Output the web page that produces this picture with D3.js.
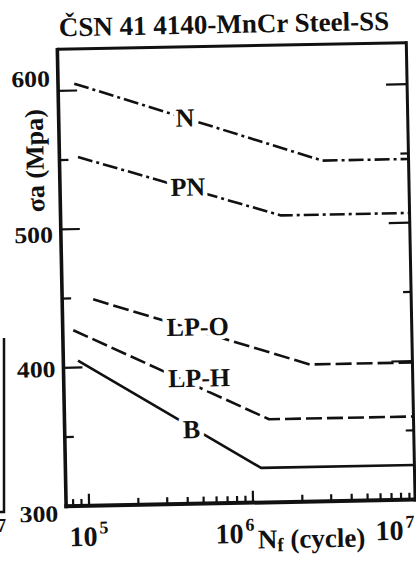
<!DOCTYPE html>
<html><head><meta charset="utf-8">
<script src="https://cdn.jsdelivr.net/npm/d3@7"></script>
<style>
html,body{margin:0;padding:0;background:#fff;} svg{display:block}
svg text{font-family:"Liberation Serif","DejaVu Serif","Times New Roman",serif;}
</style>
</head><body>
<script>
// ---- data ----
const seriesNames = ["N", "PN", "LP-O", "LP-H", "B"];
const nfStart = [9.1e4, 9.4e4, 1.12e5, 8.4e4, 8.9e4];
const sigmaStart = [605, 552, 449, 427, 405];
const nfKnee = [2.9e6, 1.6e6, 2.3e6, 1.28e6, 1.13e6];
const sigmaEndurance = [546, 507, 399, 360, 325];
const nfRunout = [9.7e6, 9.7e6, 9.7e6, 9.7e6, 9.7e6];
const labelNf = [4.27e5, 4.36e5, 4.82e5, 4.85e5, 4.3e5];
const labelSigma = [579, 529, 428, 391, 354];
const yMajorTicks = [300, 400, 500, 600];
const yMinorTicks = [350, 450, 550];
const xMajorTicks = [1e5, 1e6, 1e7];
const xTickExponents = ["5", "6", "7"];
const xMinorTicks = [8e4, 9e4, 2e5, 3e5, 4e5, 5e5, 6e5, 7e5, 8e5, 9e5, 2e6, 3e6, 4e6, 5e6, 6e6, 7e6, 8e6, 9e6];
const titleText = "ČSN 41 4140-MnCr Steel-SS";
const yTitleText = "σa (Mpa)";

// ---- styles ----
const dashes = {"N": "15,4,3,4", "PN": "15,4,3,4", "LP-O": "16,5", "LP-H": "16,5", "B": null};
const yLabelDy = {600: -4.5, 500: 13, 400: 9, 300: 15};
const xLabelDx = {"5": -20, "6": -38, "7": -42};

const W = 416, H = 563;
const L = 62, R = 411, T = 46, B = 503;

const svg = d3.select("body").append("svg").attr("width", W).attr("height", H);
svg.append("rect").attr("width", W).attr("height", H).attr("fill", "#fff");

// partial neighbouring frame at the left edge (scan artifact)
svg.append("path").attr("d", "M4,338 L4,512 L0,512").attr("fill", "none")
  .attr("stroke", "#111").attr("stroke-width", 2.5);
svg.append("text").attr("x", -3).attr("y", 532).attr("font-size", 18)
  .attr("font-weight", "bold").attr("fill", "#111").text("7");

const g = svg.append("g").attr("transform", "rotate(-1.1,234,290)");

const x = d3.scaleLog().domain([Math.pow(10, 4.86), Math.pow(10, 6.988)]).range([L, R]);
const y = d3.scaleLinear().domain([300, 630]).range([B, T]);

// title
g.append("text").attr("x", 229).attr("y", 33).attr("text-anchor", "middle")
  .attr("font-size", 27).attr("font-weight", "bold").attr("fill", "#111").text(titleText);

// series lines
const line = d3.line().x(d => x(d[0])).y(d => y(d[1]));
seriesNames.forEach((name, i) => {
  const pts = [[nfStart[i], sigmaStart[i]], [nfKnee[i], sigmaEndurance[i]], [nfRunout[i], sigmaEndurance[i]]];
  g.append("path").attr("d", line(pts)).attr("fill", "none")
    .attr("stroke", "#111").attr("stroke-width", 2.6)
    .attr("stroke-dasharray", dashes[name])
    .attr("stroke-linejoin", "round");
});

// series labels
seriesNames.forEach((name, i) => {
  g.append("text").attr("x", x(labelNf[i])).attr("y", y(labelSigma[i]) + 9)
    .attr("text-anchor", "middle").attr("font-size", 26).attr("font-weight", "bold")
    .attr("fill", "#111").attr("stroke", "#fff").attr("stroke-width", 9)
    .attr("paint-order", "stroke").attr("stroke-linejoin", "round").text(name);
});

// frame
const frame = g.append("g").attr("stroke", "#111").attr("fill", "none");
frame.append("line").attr("x1", L).attr("x2", R).attr("y1", T).attr("y2", T).attr("stroke-width", 3);
frame.append("line").attr("x1", R).attr("x2", R).attr("y1", T - 1.5).attr("y2", B + 2).attr("stroke-width", 3);
frame.append("line").attr("x1", L).attr("x2", L).attr("y1", T - 1.5).attr("y2", B + 2).attr("stroke-width", 3.6);
frame.append("line").attr("x1", L - 1.8).attr("x2", R + 1.5).attr("y1", B).attr("y2", B).attr("stroke-width", 4);

// y ticks (inside, left & right)
const tk = g.append("g").attr("stroke", "#111").attr("stroke-width", 2.2);
yMajorTicks.filter(v => v > 300).forEach(v => {
  tk.append("line").attr("x1", L).attr("x2", L + 19).attr("y1", y(v)).attr("y2", y(v));
  tk.append("line").attr("x1", R).attr("x2", R - 21).attr("y1", y(v)).attr("y2", y(v));
});
yMinorTicks.forEach(v => {
  tk.append("line").attr("x1", L).attr("x2", L + 9).attr("y1", y(v)).attr("y2", y(v));
  tk.append("line").attr("x1", R).attr("x2", R - 8).attr("y1", y(v)).attr("y2", y(v));
});
// x ticks (inside, bottom)
const [d0, d1] = x.domain();
xMajorTicks.filter(v => v >= d0 && v <= d1).forEach(v => {
  tk.append("line").attr("x1", x(v)).attr("x2", x(v)).attr("y1", B).attr("y2", B - 12);
});
xMinorTicks.filter(v => v >= d0 && v <= d1).forEach(v => {
  tk.append("line").attr("x1", x(v)).attr("x2", x(v)).attr("y1", B).attr("y2", B - 7);
});

// y tick labels
yMajorTicks.forEach(v => {
  g.append("text").attr("transform", `translate(54,${y(v) + yLabelDy[v]}) scale(1.12,1)`)
    .attr("text-anchor", "end").attr("font-size", 23).attr("font-weight", "bold")
    .attr("fill", "#111").text(v);
});

// x tick labels 10^n
xMajorTicks.forEach((v, i) => {
  const e = xTickExponents[i];
  const t = g.append("text").attr("x", x(v) + xLabelDx[e]).attr("y", 543)
    .attr("font-size", 28).attr("font-weight", "bold").attr("fill", "#111");
  t.append("tspan").text("10");
  t.append("tspan").attr("dx", 2).attr("dy", -12).attr("font-size", 18).text(e);
});

// axis titles
g.append("text").attr("transform", "translate(46,157) rotate(-90)")
  .attr("text-anchor", "middle").attr("font-size", 26).attr("font-weight", "bold")
  .attr("fill", "#111").text(yTitleText);
const xt = g.append("text").attr("x", 253).attr("y", 549).attr("font-size", 27)
  .attr("font-weight", "bold").attr("fill", "#111");
xt.append("tspan").text("N");
xt.append("tspan").attr("font-size", 19).attr("dy", 3).text("f");
xt.append("tspan").attr("dy", -3).text(" (cycle)");
</script>
</body></html>
